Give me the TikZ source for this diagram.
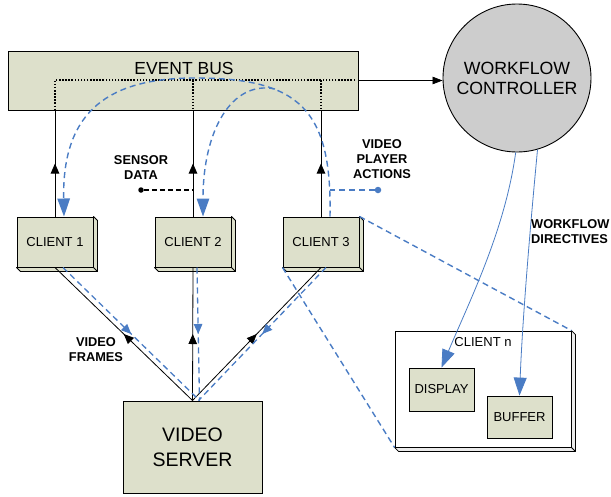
\documentclass[tikz,border=0pt]{standalone}
\usepackage{fontspec}
\setmainfont{Liberation Sans}
\usetikzlibrary{arrows.meta,calc,decorations.markings}
\definecolor{boxfill}{RGB}{221,224,203}
\definecolor{ctrlgray}{RGB}{205,205,205}
\definecolor{flowblue}{RGB}{74,124,196}
\definecolor{shadowgray}{RGB}{235,235,235}
\newcommand\boxdepth[3][boxfill]{%
  \filldraw[fill=#1, line width=0.8pt, line join=round] (#2.north east) -- ++(#3,#3) -- ($(#2.south east)+(#3,#3)$) -- ($(#2.south west)+(#3,#3)$) -- (#2.south west) -- (#2.south east) -- cycle;
  \draw[line width=0.8pt] (#2.south east) -- ++(#3,#3);
}
\begin{document}
\begin{tikzpicture}[x=1pt,y=-1pt,
  clientbox/.style={draw, line width=1pt, fill=boxfill, minimum width=76pt, minimum height=50pt, inner sep=0pt, font=\fontsize{13}{15}\selectfont},
  innerbox/.style={draw, line width=0.8pt, fill=boxfill, minimum width=65pt, minimum height=43pt, inner sep=0pt, font=\fontsize{13}{15}\selectfont},
  lbl/.style={font=\bfseries\fontsize{12.8}{15}\selectfont, align=center, inner sep=0pt},
  dotline/.style={line width=1.5pt, dash pattern=on 1.5pt off 1.6pt},
  bluedash/.style={flowblue, line width=1.4pt, dash pattern=on 6pt off 4pt},
  thinline/.style={black, line width=0.8pt},
  midarrow/.style={postaction={decorate}, decoration={markings, mark=at position #1 with {\arrow{Triangle[length=10pt,width=8.5pt]}}}},
  midarrow/.default=0.5,
  bigtip/.style={-{Triangle[length=18pt,width=12.5pt]}},
  ctrltip/.style={-{Triangle[length=18pt,width=13pt]}}
]
\useasboundingbox (0,0) rectangle (611,496);

% event bus
\node[draw, line width=1pt, fill=boxfill, minimum width=350pt, minimum height=59pt, inner sep=0pt] (bus) at (183,80.5) {};
\node[font=\fontsize{17.5}{20}\selectfont, inner sep=0pt] (bustitle) at (184,68) {EVENT BUS};

% controller
\node[circle, draw, line width=0.9pt, fill=ctrlgray, minimum size=148pt, inner sep=0pt, align=center, font=\fontsize{17.7}{20}\selectfont] (ctrl) at (517,78) {WORKFLOW\\CONTROLLER};

% clients
\node[clientbox] (c1) at (55,242) {CLIENT 1};
\node[clientbox] (c2) at (193,242) {CLIENT 2};
\node[clientbox] (c3) at (321,242) {CLIENT 3};
\boxdepth{c1}{4}
\boxdepth{c2}{4}
\boxdepth{c3}{4}

% video server
\node[draw, line width=1pt, fill=boxfill, minimum width=139pt, minimum height=92pt, inner sep=0pt, align=center, font=\fontsize{19.5}{25}\selectfont] (vs) at (192.5,447) {VIDEO\\SERVER};

% client n
\node[draw, line width=0.9pt, fill=white, minimum width=176pt, minimum height=116pt, inner sep=0pt] (cn) at (483,389) {};
\boxdepth[shadowgray]{cn}{4}
\node[font=\fontsize{13}{15}\selectfont, inner sep=0pt] (cnlabel) at (483,342) {CLIENT n};
\node[innerbox] (disp) at (441.5,389.5) {DISPLAY};
\node[innerbox, minimum height=42pt] (buf) at (519.5,417) {BUFFER};

% dotted bus wiring
\coordinate (dl) at (c1.north |- 0,80);
\coordinate (dr) at (355,80);
\draw[dotline] (dr) -- (dl) -- (dl |- bus.south);
\draw[dotline] (c2.north |- dl) -- (c2.north |- bus.south);
\draw[dotline] (c3.north |- dl) -- (c3.north |- bus.south);

% bus to controller
\draw[thinline, -{Triangle[length=10pt,width=7.5pt]}] (bus.east) -- (bus.east -| ctrl.west);

% clients to bus
\draw[line width=0.9pt, midarrow] (c1.north) -- (c1.north |- bus.south);
\draw[line width=0.9pt, midarrow] (c2.north) -- (c2.north |- bus.south);
\draw[line width=0.9pt, midarrow] (c3.north) -- (c3.north |- bus.south);

% sensor data
\node[circle, fill=black, inner sep=0pt, minimum size=5.5pt] (sdot) at (141,190) {};
\draw[line width=1.1pt, dash pattern=on 5pt off 3pt] (sdot) -- (sdot -| c2.north);
\node[lbl] (slabel) at (141,168) {SENSOR\\DATA};

% video player actions
\node[circle, fill=flowblue, inner sep=0pt, minimum size=6.5pt] (vdot) at (378,190) {};
\coordinate (arcstart) at ($(c3.north)+(9,0)$);
\draw[bluedash] (vdot) -- (vdot -| arcstart);
\node[lbl] (vlabel) at (382,159) {VIDEO\\PLAYER\\ACTIONS};

% event arcs
\draw[bluedash, bigtip] (arcstart) .. controls (332,110) and (300,78) .. (195,78) .. controls (110,78) and (62,110) .. ($(c1.north)+(9,0)$);
\coordinate (branch) at (275,89);
\draw[bluedash, bigtip] (branch) .. controls (232,80) and (203,130) .. ($(c2.north)+(10,0)$);

% server to clients
\draw[thinline, midarrow] (vs.north) -- (c1.south);
\draw[thinline, midarrow] (vs.north) -- (c2.south);
\draw[thinline, midarrow] (vs.north) -- (c3.south);
\draw[bluedash, line width=1.3pt, midarrow] ($(c1.south)+(8,0)$) -- ($(vs.north)+(7,0)$);
\draw[bluedash, line width=1.3pt, midarrow] ($(c2.south)+(4,0)$) -- ($(vs.north)+(7,0)$);
\draw[bluedash, line width=1.3pt, midarrow] ($(c3.south)+(5,0)$) -- ($(vs.north)+(6,0)$);
\node[lbl] (vflabel) at (96,349.5) {VIDEO\\FRAMES};

% zoom lines
\draw[bluedash] (c3.north east) -- (cn.north east);
\draw[bluedash] (c3.south west) -- (cn.south west);

% controller directives
\draw[flowblue, line width=0.8pt, ctrltip] (ctrl.-91) .. controls (505,230) and (470,300) .. (disp.north);
\draw[flowblue, line width=0.8pt, ctrltip] (ctrl.-74) .. controls (528,250) and (522,330) .. (buf.north);
\node[lbl, align=left, anchor=west] (wdlabel) at (531,232) {WORKFLOW\\DIRECTIVES};
\end{tikzpicture}
\end{document}
